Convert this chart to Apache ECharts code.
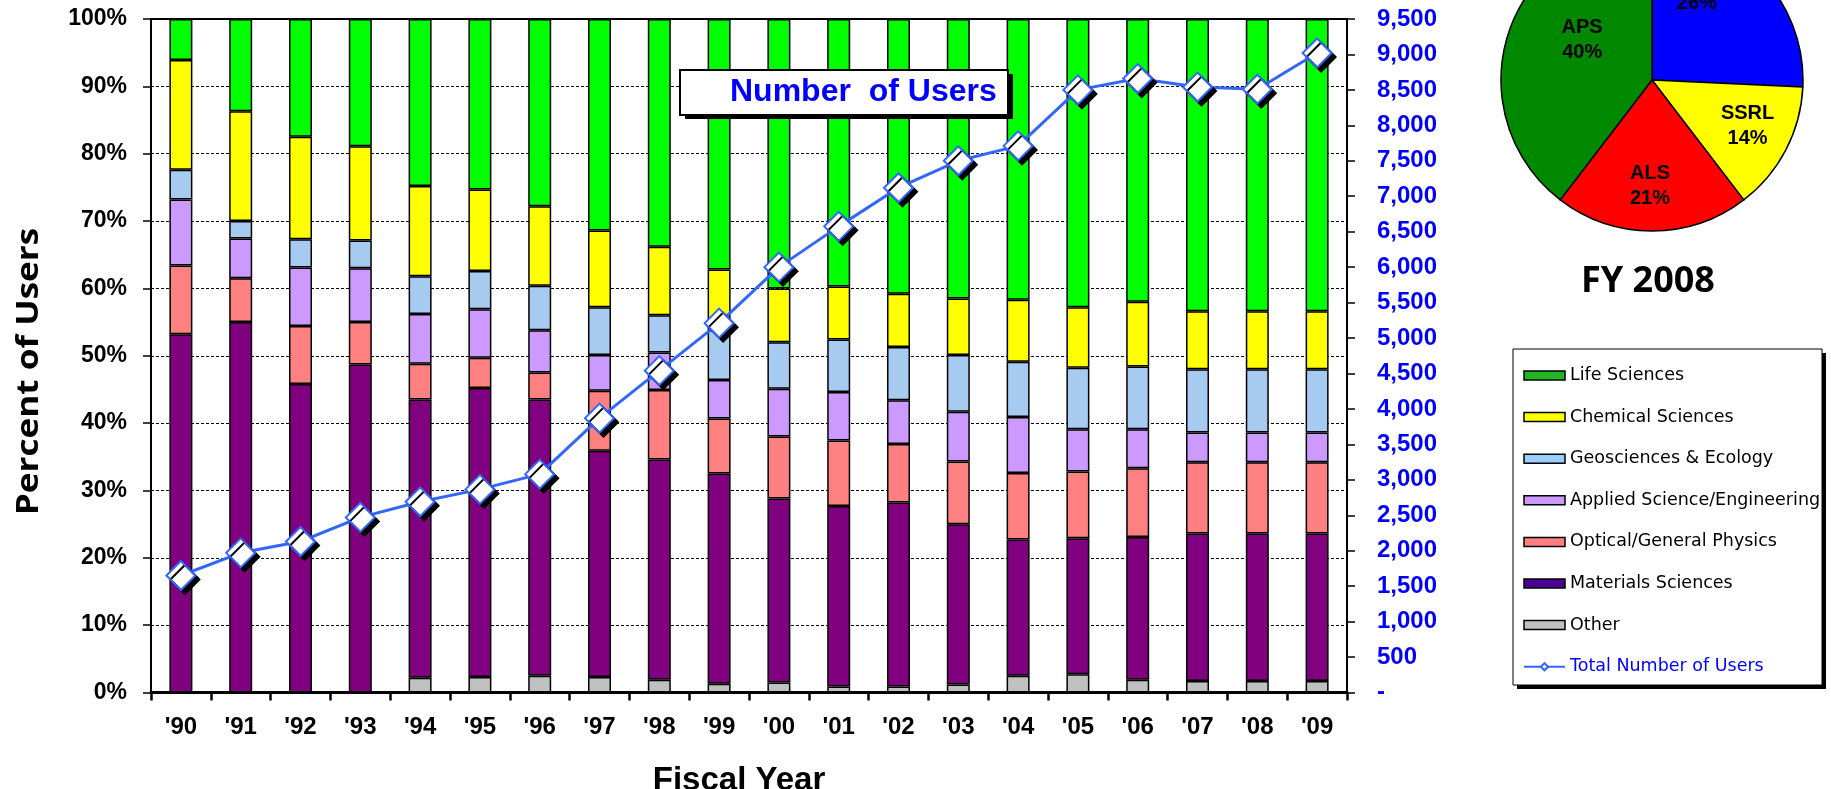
<!DOCTYPE html>
<html><head><meta charset="utf-8">
<script src="https://cdn.jsdelivr.net/npm/echarts@6/dist/echarts.min.js"></script>
<style>html,body{margin:0;padding:0;background:#fff}#c{width:1831px;height:789px}</style>
</head><body><div id="c"></div>
<script>
const years = ["'90","'91","'92","'93","'94","'95","'96","'97","'98","'99","'00","'01","'02","'03","'04","'05","'06","'07","'08","'09"];
const other     = [0,0,0,0,2.2,2.3,2.5,2.3,1.9,1.3,1.5,0.9,0.9,1.2,2.5,2.7,1.9,1.7,1.7,1.7];
const materials = [53.2,55.0,45.8,48.7,41.3,42.9,41.0,33.6,32.7,31.2,27.3,26.8,27.3,23.8,20.2,20.2,21.2,21.9,21.9,21.9];
const optical   = [10.2,6.5,8.6,6.3,5.3,4.5,4.0,8.9,10.3,8.2,9.2,9.7,8.7,9.3,9.9,9.9,10.2,10.6,10.6,10.6];
const applied   = [9.8,5.9,8.7,8.0,7.4,7.2,6.3,5.3,5.6,5.7,7.1,7.2,6.5,7.4,8.3,6.3,5.8,4.4,4.4,4.4];
const geo       = [4.4,2.6,4.2,4.1,5.6,5.7,6.6,7.1,5.5,7.4,6.9,7.8,7.9,8.4,8.2,9.1,9.3,9.4,9.4,9.4];
const chem      = [16.3,16.3,15.2,14.0,13.4,12.1,11.8,11.4,10.2,9.0,8.0,7.9,7.9,8.4,9.2,9.0,9.6,8.6,8.6,8.6];
const life      = [6.1,13.7,17.5,18.9,24.8,25.3,27.8,31.4,33.8,37.2,40.0,39.7,40.8,41.5,41.7,42.8,42.0,43.4,43.4,43.4];
const users     = [1650,1970,2130,2470,2690,2865,3080,3870,4540,5210,6000,6575,7120,7500,7710,8500,8660,8540,8510,9020];
const leftTicks = [0,100,10];      // min, max, interval (%)
const rightTicks = [0,9500,500];   // min, max, interval (users)
const pieNames  = ['NSLS','SSRL','ALS','APS'];
const pieValues = [26,14,21,40];

const FONT = 'Liberation Sans';
const bars = [
  {name:'Other', data:other, color:'#C0C0C0', legend:'#C0C0C0'},
  {name:'Materials Sciences', data:materials, color:'#800080', legend:'#4B0096'},
  {name:'Optical/General Physics', data:optical, color:'#FF8080', legend:'#FF8080'},
  {name:'Applied Science/Engineering', data:applied, color:'#CC99FF', legend:'#CC99FF'},
  {name:'Geosciences & Ecology', data:geo, color:'#A6CAF0', legend:'#99CCFF'},
  {name:'Chemical Sciences', data:chem, color:'#FFFF00', legend:'#FFFF00'},
  {name:'Life Sciences', data:life, color:'#00FF00', legend:'#22B422'}
];
const pieColors = ['#0000FF','#FFFF00','#FF0000','#008800'];
const pieLabelShift = [[-12,-35],[26,9.5],[-2,27],[4.5,-15]];

const series = bars.map(b => ({
  type:'bar', name:b.name, stack:'pct', data:b.data, barWidth:23,
  itemStyle:{color:b.color, borderColor:'#000', borderWidth:1.5},
  emphasis:{disabled:true}, silent:true
}));
series.push({
  type:'line', name:'Total Number of Users', yAxisIndex:1, data:users,
  symbol:'diamond', symbolSize:29, z:5,
  lineStyle:{color:'#3366FF', width:3},
  itemStyle:{color:'#FFFFFF', borderColor:'#3366FF', borderWidth:2, shadowColor:'#000', shadowOffsetX:4, shadowOffsetY:4, shadowBlur:0},
  emphasis:{disabled:true}, silent:true
});
series.push({
  type:'pie', center:[1652,80], radius:151, startAngle:90, clockwise:true, avoidLabelOverlap:false,
  data: pieNames.map((n,i)=>({name:n, value:pieValues[i], itemStyle:{color:pieColors[i]}})),
  itemStyle:{borderColor:'#000', borderWidth:1.5},
  label:{show:true, position:'inside', formatter:'{b}\n{c}%', color:'#000', fontFamily:FONT, fontWeight:'bold', fontSize:20, lineHeight:25},
  labelLine:{show:false},
  labelLayout: p => ({dx:pieLabelShift[p.dataIndex][0], dy:pieLabelShift[p.dataIndex][1]}),
  emphasis:{disabled:true}, silent:true
});

const legendData = [...bars].reverse().map(b => ({name:b.name, icon:'rect', itemStyle:{color:b.legend, borderColor:'#000', borderWidth:1.5}}));
legendData.push({name:'Total Number of Users', textStyle:{color:'#0000FF'}});

const option = {
  animation:false,
  backgroundColor:'#fff',
  grid:{left:151, right:484, top:19, bottom:96.5, show:true, borderColor:'#000', borderWidth:2, containLabel:false, outerBoundsMode:'none'},
  xAxis:{
    type:'category', data:years, boundaryGap:true,
    axisLine:{lineStyle:{color:'#000', width:3}},
    axisTick:{show:true, interval:0, length:8, lineStyle:{color:'#000', width:2.5}},
    axisLabel:{interval:0, color:'#000', fontFamily:FONT, fontWeight:'bold', fontSize:24, margin:23},
    splitLine:{show:false},
    name:'Fiscal Year', nameLocation:'middle', nameGap:72,
    nameTextStyle:{fontFamily:FONT, fontWeight:'bold', fontSize:33, color:'#000', padding:[0,20,0,0]}
  },
  yAxis:[{
    type:'value', position:'left', min:leftTicks[0], max:leftTicks[1], interval:leftTicks[2],
    axisLine:{show:true, lineStyle:{color:'#000', width:2}},
    axisTick:{show:true, length:8, lineStyle:{color:'#000', width:1.5}},
    axisLabel:{formatter:'{value}%', color:'#000', fontFamily:FONT, fontWeight:'bold', fontSize:23, margin:24, showMinLabel:true, showMaxLabel:true},
    splitLine:{show:true, lineStyle:{color:'#000', type:[3,2], width:1}}
  },{
    type:'value', position:'right', min:rightTicks[0], max:rightTicks[1], interval:rightTicks[2],
    axisLine:{show:true, lineStyle:{color:'#000', width:2}},
    axisTick:{show:true, length:8, lineStyle:{color:'#000', width:1.5}},
    axisLabel:{formatter: v => v === 0 ? '-' : v.toLocaleString('en-US'), color:'#0000FF', fontFamily:FONT, fontWeight:'bold', fontSize:24, margin:30, showMinLabel:true, showMaxLabel:true},
    splitLine:{show:false}
  }],
  legend:{
    orient:'vertical', left:1523, top:366.5, itemWidth:41, itemHeight:9, itemGap:23.6, padding:0,
    selectedMode:false, z:10,
    textStyle:{fontFamily:'DejaVu Sans', fontSize:17.5, color:'#000'},
    data:legendData
  },
  graphic:[
    {type:'rect', z:1, shape:{x:1517, y:353, width:309, height:336}, style:{fill:'#000'}},
    {type:'rect', z:2, shape:{x:1513, y:349, width:309, height:336}, style:{fill:'#fff', stroke:'#000', lineWidth:1}},
    {type:'rect', z:20, shape:{x:685, y:74, width:328, height:45}, style:{fill:'#000'}},
    {type:'rect', z:21, shape:{x:680, y:70, width:328, height:45}, style:{fill:'#fff', stroke:'#000', lineWidth:2}},
    {type:'text', z:22, x:730, y:92.5,
     style:{text:'Number  of Users', fill:'#0000FF', font:'bold 32px "Liberation Sans"', textAlign:'left', textVerticalAlign:'middle'}},
    {type:'text', z:5, x:29, y:371.5, rotation:Math.PI/2, scaleX:1.17,
     style:{text:'Percent of Users', fill:'#000', font:'bold 30px "Open Sans"', textAlign:'center', textVerticalAlign:'middle'}},
    {type:'text', z:5, x:1648, y:282,
     style:{text:'FY 2008', fill:'#000', font:'bold 36px "Open Sans"', textAlign:'center', textVerticalAlign:'middle'}}
  ],
  series:series
};
const chart = echarts.init(document.getElementById('c'), null, {renderer:'canvas'});
chart.setOption(option);
</script>
</body></html>
